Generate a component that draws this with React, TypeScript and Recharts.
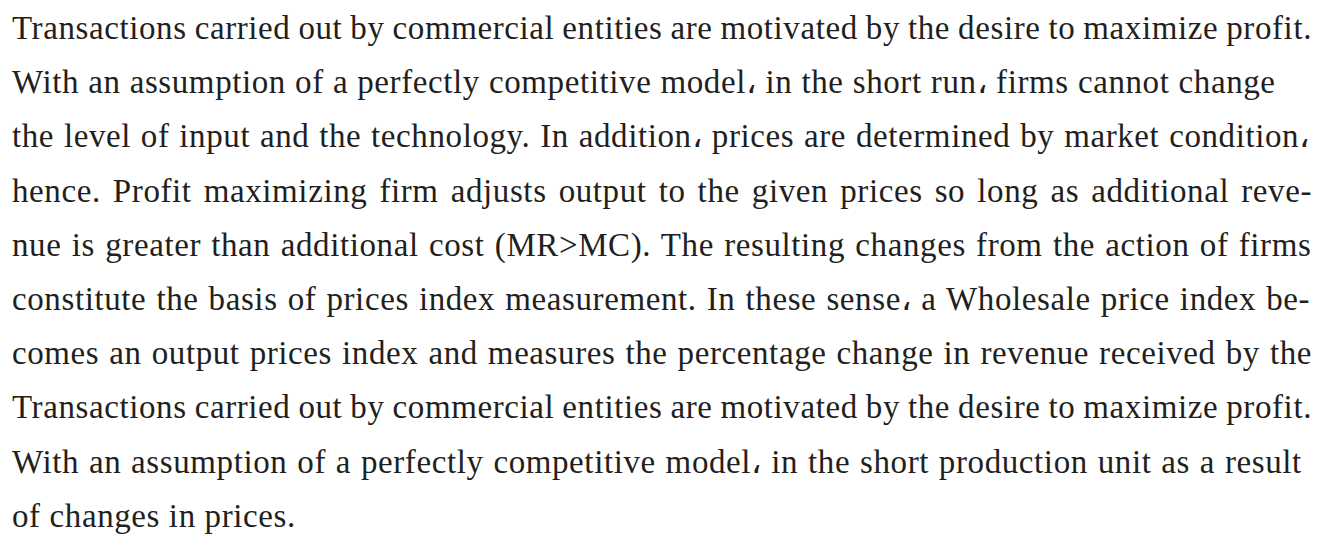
import React from 'react'
import { Surface, Text } from 'recharts'

// text lines as set in the picture (one entry per printed line)
const lines = [
  'Transactions carried out by commercial entities are motivated by the desire to maximize profit.',
  'With an assumption of a perfectly competitive model\u060C in the short run\u060C firms cannot change',
  'the level of input and the technology. In addition\u060C prices are determined by market condition\u060C',
  'hence. Profit maximizing firm adjusts output to the given prices so long as additional reve-',
  'nue is greater than additional cost (MR>MC). The resulting changes from the action of firms',
  'constitute the basis of prices index measurement. In these sense\u060C a Wholesale price index be-',
  'comes an output prices index and measures the percentage change in revenue received by the',
  'Transactions carried out by commercial entities are motivated by the desire to maximize profit.',
  'With an assumption of a perfectly competitive model\u060C in the short production unit as a result',
  'of changes in prices.',
]

// right edge of each line (0 = ragged, not justified)
const lineEnds = [1312, 1278, 1312, 1312, 1312, 1312, 1312, 1312, 1303, 0]

const W = 1324
const H = 536
const LEFT = 12
const TOP = 39
const LINE_H = 54.2
const FONT_SIZE = 33
const LETTER = 0.6
const FONT = '"Liberation Serif", "Times New Roman", serif'

function spacingFor(line: string, end: number) {
  if (!end) return 0
  const ctx = document.createElement('canvas').getContext('2d')
  if (!ctx) return 0
  ctx.font = `${FONT_SIZE}px ${FONT}`
  const w = ctx.measureText(line).width + LETTER * line.length
  const gaps = line.split(' ').length - 1
  return gaps ? (end - LEFT - w) / gaps : 0
}

export default function App() {
  return (
    <div style={{ position: 'absolute', left: 0, top: 0, width: W, height: H, background: '#fff' }}>
      <Surface width={W} height={H}>
        {lines.map((line, i) => (
          <Text
            key={i}
            x={LEFT}
            y={TOP + i * LINE_H}
            verticalAnchor="end"
            textAnchor="start"
            fontSize={FONT_SIZE}
            fontFamily={FONT}
            fill="#231f20"
            style={{ wordSpacing: `${spacingFor(line, lineEnds[i])}px`, letterSpacing: `${LETTER}px` }}
          >
            {line}
          </Text>
        ))}
      </Surface>
    </div>
  )
}
